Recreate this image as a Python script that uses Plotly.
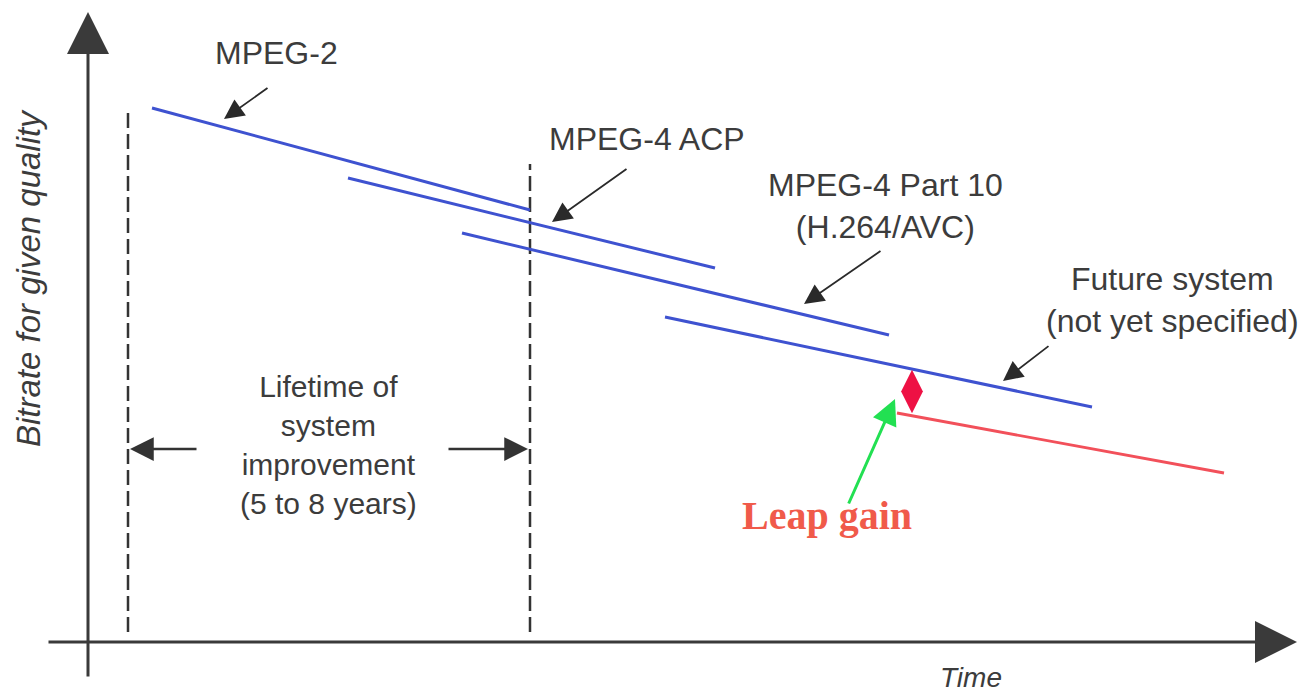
import plotly.graph_objects as go

# ---- data (diagram units: time along x, bitrate along y) ----
codecs = ["MPEG-2", "MPEG-4 ACP", "MPEG-4 Part 10", "Future system"]
start_time = [6.4, 26.0, 37.4, 57.7]
end_time = [44.2, 62.7, 80.1, 100.4]
start_bitrate = [53.4, 46.4, 40.9, 32.5]
end_bitrate = [43.2, 37.4, 30.7, 23.5]

leap_time = [80.9, 113.6]
leap_bitrate = [22.9, 16.9]

gap_time = [82.4]
gap_bitrate = [25.05]

lifetime_time = [4.0, 44.2]
lifetime_top = [53.4, 47.8]
lifetime_bottom = [1.0, 1.0]

BLUE = "#3e52d0"
TXT = "#3c3c3c"
FONT = "Liberation Sans, Arial, sans-serif"

fig = go.Figure()

# dashed lifetime boundaries
for t, top, bot in zip(lifetime_time, lifetime_top, lifetime_bottom):
    fig.add_trace(go.Scatter(x=[t, t], y=[bot, top], mode="lines",
                             line=dict(color="#333333", width=2.5, dash="15px,6px"),
                             hoverinfo="skip", showlegend=False))

# codec lines
for name, t0, t1, b0, b1 in zip(codecs, start_time, end_time, start_bitrate, end_bitrate):
    fig.add_trace(go.Scatter(x=[t0, t1], y=[b0, b1], mode="lines", name=name,
                             line=dict(color=BLUE, width=3), showlegend=False))

# leap line
fig.add_trace(go.Scatter(x=leap_time, y=leap_bitrate, mode="lines",
                         line=dict(color="#f2505a", width=2.8), showlegend=False))

# leap gain diamond
fig.add_trace(go.Scatter(x=gap_time, y=gap_bitrate, mode="markers",
                         marker=dict(symbol="diamond-tall", size=31, color="#ee1144",
                                     line=dict(width=0)),
                         showlegend=False))

def arrow(x, y, ax, ay, color, width, size):
    fig.add_annotation(x=x, y=y, ax=ax, ay=ay, xref="x", yref="y", axref="x", ayref="y",
                       text="", showarrow=True, arrowhead=2, arrowsize=size,
                       arrowwidth=width, arrowcolor=color)

# axes with arrows
arrow(0, 63.0, 0, -3.6, "#3a3a3a", 3, 2.8)
arrow(120.9, 0, -4.1, 0, "#3a3a3a", 3, 2.8)

# label pointers
arrow(13.6, 52.3, 18.1, 55.5, "#2a2a2a", 1.8, 2.2)
arrow(46.4, 42.0, 54.0, 47.4, "#2a2a2a", 1.8, 2.2)
arrow(71.6, 33.8, 79.4, 39.2, "#2a2a2a", 1.8, 2.2)
arrow(91.5, 26.1, 96.2, 29.7, "#2a2a2a", 1.8, 2.2)

# lifetime arrows
arrow(4.2, 19.3, 11.0, 19.3, "#333333", 2.5, 1.9)
arrow(44.0, 19.3, 35.9, 19.3, "#333333", 2.5, 1.9)

# leap gain arrow
arrow(80.7, 24.3, 76.0, 13.7, "#22e052", 3, 1.7)

def label(x, y, text, size=32, family=FONT, color=TXT, textangle=0):
    fig.add_annotation(x=x, y=y, xref="x", yref="y", text=text, showarrow=False,
                       xanchor="center", yanchor="middle", align="center",
                       textangle=textangle,
                       font=dict(family=family, size=size, color=color))

label(18.8, 58.9, "MPEG-2")
label(55.9, 50.3, "MPEG-4 ACP")
label(79.7, 43.6, "MPEG-4 Part 10<br>(H.264/AVC)")
label(108.4, 34.2, "Future system<br>(not yet specified)")
label(24.0, 19.7, "Lifetime of<br>system<br>improvement<br>(5 to 8 years)", size=30)
label(73.9, 12.7, "<b>Leap gain</b>", size=40, family="Liberation Serif", color="#f05a4a")
label(88.3, -3.5, "<i>Time</i>", size=28)
label(-6.0, 36.4, "<i>Bitrate for given quality</i>", size=33, textangle=-90)

fig.update_layout(
    width=1298, height=686,
    margin=dict(l=0, r=0, t=0, b=0),
    paper_bgcolor="white", plot_bgcolor="white",
    xaxis=dict(range=[-8.0, 121.8], visible=False, fixedrange=True),
    yaxis=dict(range=[-5.2, 63.4], visible=False, fixedrange=True),
    showlegend=False,
)

fig.write_html("out.html")
